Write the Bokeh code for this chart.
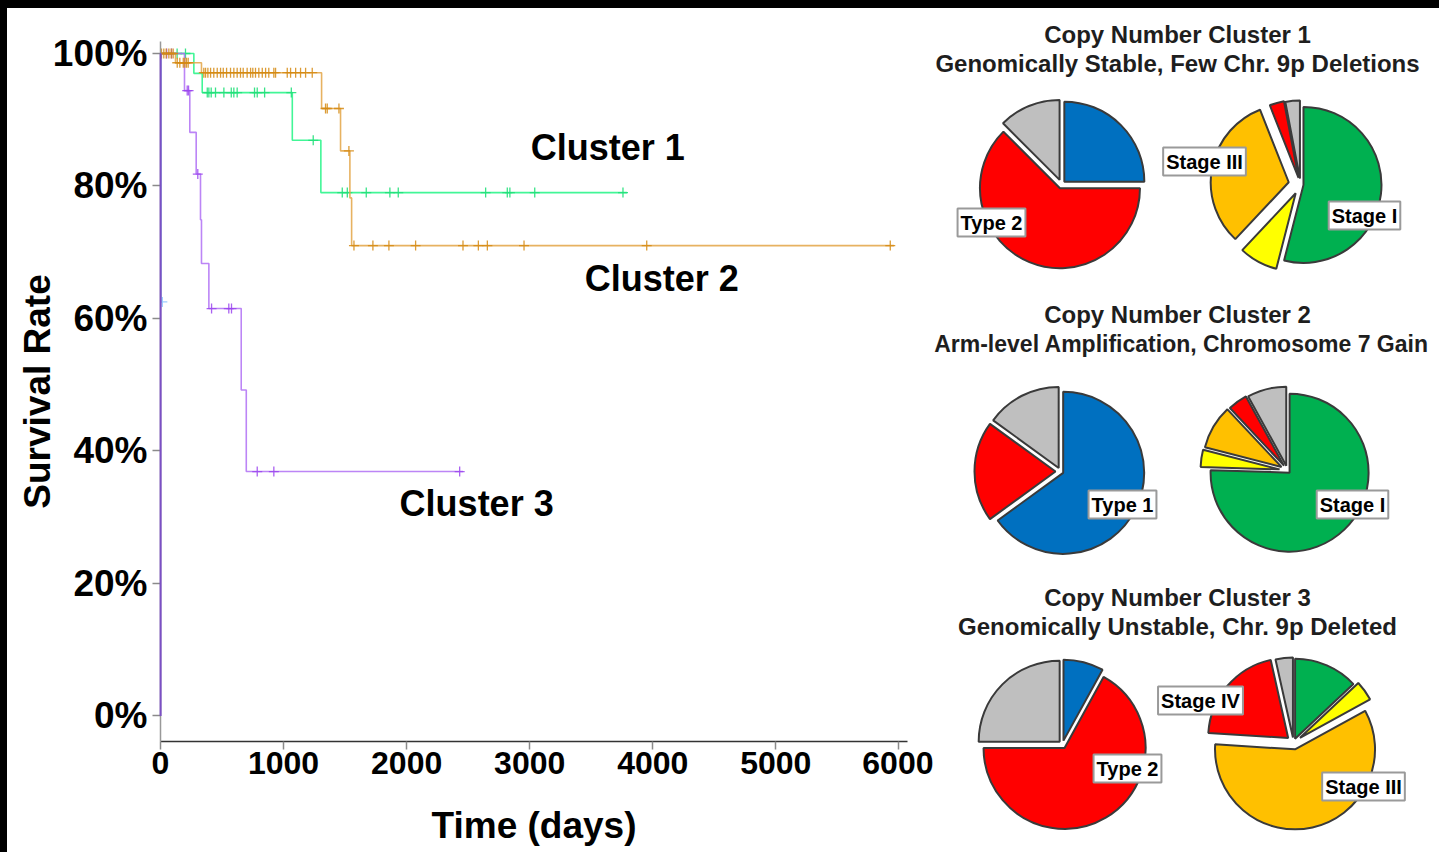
import numpy as np
from bokeh.plotting import figure
from bokeh.models import Range1d, FixedTicker, NumeralTickFormatter, Label, Div
from bokeh.layouts import row, column
from bokeh.embed import file_html
from bokeh.resources import INLINE
from bokeh.core.properties import value

FONT = "Liberation Sans"

# ---------------- Kaplan-Meier data (days, survival fraction) ----------------
c1_step_days = [0, 271, 339, 1071, 1303]
c1_surv = [1.0, 0.970, 0.941, 0.869, 0.790]
c1_end = 3790
c1_censor = [135, 203, 380, 393, 412, 447, 515, 575, 596, 623, 764, 786, 846, 1063,
             1241, 1477, 1518, 1672, 1864, 1932, 2642, 2818, 2839, 3041, 3758]

c2_step_days = [0, 122, 333, 1309, 1463, 1539, 1553]
c2_surv = [1.0, 0.986, 0.971, 0.917, 0.853, 0.782, 0.710]
c2_end = 5960
c2_censor = [8, 27, 46, 68, 87, 103, 136, 157, 185, 198, 211, 225, 352, 366, 385, 407,
             433, 461, 488, 510, 537, 569, 596, 623, 650, 672, 704, 732, 750, 772, 799,
             827, 854, 880, 921, 935, 1030, 1057, 1098, 1138, 1179, 1233, 1341, 1355,
             1450, 1531, 1572, 1726, 1856, 2073, 2458, 2583, 2656, 2954, 3951, 5930]

c3_step_days = [0, 195, 238, 290, 325, 333, 393, 656, 697]
c3_surv = [1.0, 0.944, 0.881, 0.818, 0.749, 0.683, 0.615, 0.492, 0.369]
c3_end = 2458
c3_censor = [50, 90, 217, 228, 303, 415, 555, 577, 786, 921, 2431]

ua_step_days = [0, 4]
ua_surv = [1.0, 0.625]
ua_end = 15
ua_censor = [15]

ub_step_days = [0, 1]
ub_surv = [1.0, 0.0]
ub_end = 1

x_ticks = [0, 1000, 2000, 3000, 4000, 5000, 6000]
y_ticks = [0, 0.2, 0.4, 0.6, 0.8, 1.0]

cluster_labels = ["Cluster 1", "Cluster 2", "Cluster 3"]
cluster_label_x = [3634, 4073, 2569]
cluster_label_y = [0.858, 0.660, 0.321]

# ---------------- Pie data (percent) ----------------
type_cats = ["Type 1", "Type 2", "NA"]
stage_cats = ["Stage I", "Stage II", "Stage III", "Stage IV", "NA"]
c1_type = [25, 62.5, 12.5]
c1_stage = [54, 8, 32, 3, 3]
c2_type = [65, 20, 15]
c2_stage = [75.5, 3.5, 9, 4, 8]
c3_type = [8, 67, 25]
c3_stage = [13, 4, 59, 20.5, 3.5]

pie_titles = [
    ("Copy Number Cluster 1", "Genomically Stable, Few Chr. 9p Deletions"),
    ("Copy Number Cluster 2", "Arm-level Amplification, Chromosome 7 Gain"),
    ("Copy Number Cluster 3", "Genomically Unstable, Chr. 9p Deleted"),
]

type_colors = ["#0070C0", "#FF0000", "#BFBFBF"]
stage_colors = ["#00B050", "#FFFF00", "#FFC000", "#FF0000", "#BFBFBF"]

# ---------------- KM figure ----------------
KM_W = 926
p = figure(width=KM_W, height=844, output_backend="svg", toolbar_location=None,
           x_range=Range1d(0, 6070), y_range=Range1d(-0.0385, 1.0181),
           min_border_left=153, min_border_top=33, min_border_bottom=111,
           min_border_right=26)
p.xgrid.visible = False
p.ygrid.visible = False
p.outline_line_color = None
p.background_fill_color = "white"
p.border_fill_color = "white"

p.xaxis.ticker = FixedTicker(ticks=x_ticks)
p.yaxis.ticker = FixedTicker(ticks=y_ticks)
p.yaxis.formatter = NumeralTickFormatter(format="0%")
for ax in (p.xaxis, p.yaxis):
    ax.major_tick_out = 8
    ax.major_tick_in = 0
    ax.minor_tick_line_color = None
    ax.major_tick_line_color = "#8a8a8a"
    ax.major_tick_line_width = 1.5
    ax.major_label_text_font = FONT
    ax.major_label_text_font_style = "bold"
    ax.major_label_text_color = "black"
    ax.axis_label_text_font = FONT
    ax.axis_label_text_font_style = "bold"
    ax.axis_label_text_color = "black"
    ax.axis_label_text_font_size = "37px"
p.yaxis.axis_line_color = "#999999"
p.yaxis.axis_line_width = 1.5
p.xaxis.axis_line_color = "#333333"
p.xaxis.axis_line_width = 1.5
p.yaxis.major_label_text_font_size = "37px"
p.xaxis.major_label_text_font_size = "32px"
p.yaxis.major_label_standoff = 5
p.xaxis.major_label_standoff = 2
p.yaxis.axis_label = "Survival Rate"
p.xaxis.axis_label = "Time (days)"
p.yaxis.axis_label_standoff = -8
p.xaxis.axis_label_standoff = 28


def km(step_days, surv, end, censor, line_color, mark_color, alpha=0.85, width=1.6,
       level="glyph"):
    xs = list(step_days) + [end]
    ys = list(surv) + [surv[-1]]
    r = p.step(xs, ys, mode="after", line_color=line_color, line_width=width,
               line_alpha=alpha)
    r.level = level
    if censor:
        idx = np.searchsorted(np.array(step_days), np.array(censor), side="right") - 1
        cy = np.array(surv)[idx]
        p.scatter(censor, cy, marker="cross", size=10, line_color=mark_color,
                  line_width=1.3, line_alpha=alpha)


km(ua_step_days, ua_surv, ua_end, ua_censor, "#8CC4FF", "#8CC4FF")
km(c1_step_days, c1_surv, c1_end, c1_censor, "#2EF58C", "#22E07A", 0.9)
km(c3_step_days, c3_surv, c3_end, c3_censor, "#B070F5", "#9B45EE", 0.85)
km(c2_step_days, c2_surv, c2_end, c2_censor, "#E3A445", "#D58A12", 0.85)
km(ub_step_days, ub_surv, ub_end, [], "#7B4FC4", "#7B4FC4", 1.0, 2.0, "overlay")

p.text(x=cluster_label_x, y=cluster_label_y, text=cluster_labels,
       text_font=value(FONT), text_font_style="bold", text_font_size="36px",
       text_color="black", text_align="center", text_baseline="middle")

# ---------------- Pie figure ----------------
PX0, PX1 = 7 + KM_W, 1439
q = figure(width=PX1 - PX0, height=844, output_backend="svg", toolbar_location=None,
           x_range=Range1d(PX0, PX1), y_range=Range1d(0, 844),
           x_axis_type=None, y_axis_type=None, min_border=0, title=None)
q.xgrid.visible = False
q.ygrid.visible = False
q.outline_line_color = None
q.background_fill_color = "white"
q.border_fill_color = "white"


def Y(py):
    return 852 - py


def pie(cx, cy, r, vals, colors, explode):
    vals = np.array(vals, dtype=float)
    frac = vals / vals.sum() * 360.0
    cum = np.concatenate([[0], np.cumsum(frac)])
    for i in range(len(vals)):
        a_end = 90 - cum[i]
        a_start = 90 - cum[i + 1]
        mid = np.deg2rad((a_start + a_end) / 2)
        dx = explode[i] * np.cos(mid)
        dy = explode[i] * np.sin(mid)
        q.wedge(x=cx + dx, y=Y(cy) + dy, radius=r,
                start_angle=float(np.deg2rad(a_start)), end_angle=float(np.deg2rad(a_end)),
                fill_color=colors[i], line_color="#3a3a3a", line_width=2)


def tag(x, y, txt):
    q.add_layout(Label(x=x, y=Y(y), text=txt, text_align="center", text_baseline="middle",
                       text_font=FONT, text_font_style="bold", text_font_size="20px",
                       text_color="black", background_fill_color="white",
                       border_line_color="#9a9a9a", border_line_width=2, padding=3))


title_y = [(34, 63), (314, 343), (597, 626)]
title_sizes = [("24px", "24px"), ("24px", "23px"), ("24px", "24px")]
title_x = [(1177, 1177), (1177, 1181), (1177, 1177)]
for (l1, l2), (y1, y2), (s1, s2), (x1, x2) in zip(pie_titles, title_y, title_sizes, title_x):
    for txt, xx, yy, ss in ((l1, x1, y1, s1), (l2, x2, y2, s2)):
        q.text(x=[xx], y=[Y(yy)], text=[txt], text_font=value(FONT),
               text_font_style="bold", text_font_size=ss, text_color="#1e1e1e",
               text_align="center", text_baseline="middle")

pie(1061, 184, 80, c1_type, type_colors, [4, 4, 5])
pie(1300, 184, 78, c1_stage, stage_colors, [3, 10, 12, 7, 6])
pie(1060, 471, 81, c2_type, type_colors, [3, 5, 4])
pie(1287, 470, 79, c2_stage, stage_colors, [3, 8, 7, 6, 5])
pie(1062, 744, 81, c3_type, type_colors, [4, 4, 4])
pie(1293, 742, 80, c3_stage, stage_colors, [4, 8, 7, 7, 5])

tag(991, 222, "Type 2")
tag(1204, 161, "Stage III")
tag(1364, 215, "Stage I")
tag(1122, 504, "Type 1")
tag(1352, 504, "Stage I")
tag(1127, 768, "Type 2")
tag(1200, 700, "Stage IV")
tag(1363, 786, "Stage III")

top_bar = Div(width=1439, height=8, margin=0, styles={"background-color": "black"})
left_bar = Div(width=7, height=844, margin=0, styles={"background-color": "black"})
layout = column(top_bar, row(left_bar, p, column(q, spacing=0), spacing=0), spacing=0)
open("out.html", "w").write(file_html(layout, INLINE))
